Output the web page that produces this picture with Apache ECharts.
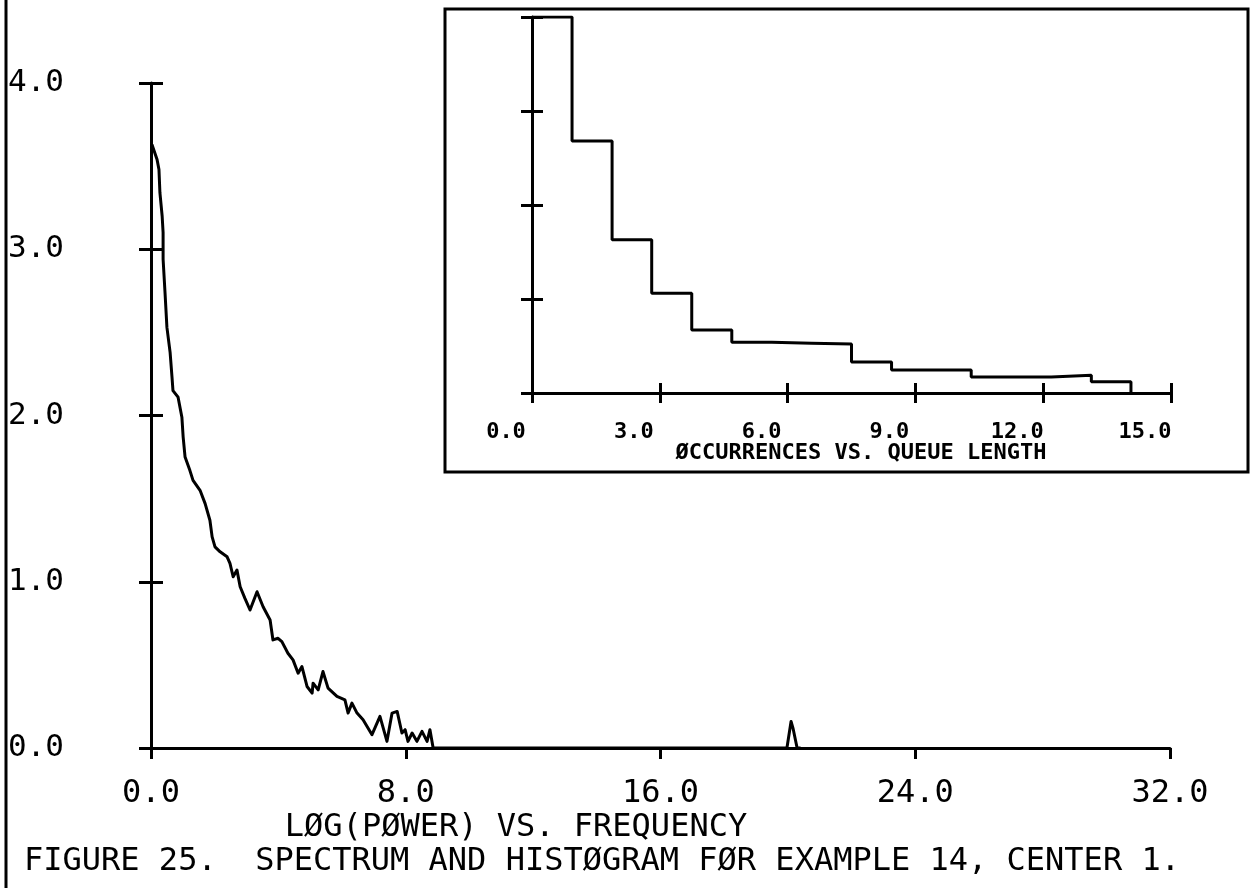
<!DOCTYPE html>
<html>
<head>
<meta charset="utf-8">
<title>Figure 25</title>
<script src="https://cdn.jsdelivr.net/npm/echarts@6/dist/echarts.min.js"></script>
<style>
  html, body { margin: 0; padding: 0; background: #fff; }
  #chart { width: 1251px; height: 888px; }
</style>
</head>
<body>
<div id="chart"></div>
<script>
// spectrum: log(power) against frequency
var specFreq = [0.03, 0.19, 0.25, 0.28, 0.35, 0.38, 0.38, 0.44, 0.50, 0.60, 0.66, 0.69, 0.85, 0.97, 1.01, 1.07,
	1.22, 1.32, 1.54, 1.70, 1.85, 1.92, 2.01, 2.17, 2.39, 2.48, 2.58, 2.70, 2.80, 2.95, 3.11, 3.33,
	3.52, 3.74, 3.83, 3.99, 4.11, 4.30, 4.46, 4.62, 4.74, 4.90, 5.06, 5.09, 5.25, 5.40, 5.56, 5.84,
	6.09, 6.19, 6.31, 6.47, 6.66, 6.94, 7.19, 7.41, 7.57, 7.73, 7.88, 7.98, 8.07, 8.20, 8.35, 8.51,
	8.67, 8.76, 8.86, 19.97, 20.10, 20.16, 20.29, 20.40];
var specPower = [3.63, 3.54, 3.48, 3.34, 3.20, 3.10, 2.94, 2.74, 2.53, 2.38, 2.23, 2.15, 2.11, 1.99, 1.87, 1.75,
	1.67, 1.61, 1.55, 1.47, 1.37, 1.27, 1.21, 1.18, 1.15, 1.11, 1.03, 1.07, 0.97, 0.90, 0.83, 0.94,
	0.85, 0.77, 0.65, 0.66, 0.64, 0.57, 0.53, 0.45, 0.49, 0.37, 0.33, 0.39, 0.35, 0.46, 0.36, 0.31,
	0.29, 0.21, 0.27, 0.21, 0.17, 0.08, 0.19, 0.04, 0.21, 0.22, 0.09, 0.11, 0.04, 0.09, 0.04, 0.10,
	0.04, 0.11, 0.00, 0.00, 0.16, 0.12, 0.00, 0.00];

// histogram: occurrences against queue length (left bin edges + heights)
var binEdges = [0, 0.94, 1.88, 2.81, 3.75, 4.69, 5.63, 6.56, 7.50, 8.44, 9.38, 10.31, 11.25, 12.19, 13.13, 14.06];
var binCounts = [4.0, 2.68, 1.63, 1.06, 0.67, 0.54, 0.53, 0.52, 0.33, 0.245, 0.245, 0.17, 0.17, 0.19, 0.12];

var mainTitle = 'LØG(PØWER) VS. FREQUENCY';
var insetTitle = 'ØCCURRENCES VS. QUEUE LENGTH';
var caption = 'FIGURE 25.  SPECTRUM AND HISTØGRAM FØR EXAMPLE 14, CENTER 1.';

var ink = '#000';
var mono = '"DejaVu Sans Mono", monospace';
var lw = 3;

var specData = [];
for (var i = 0; i < specFreq.length; i++) {
	specData.push([specFreq[i], specPower[i]]);
}
var histData = [];
for (var j = 0; j < binCounts.length; j++) {
	histData.push([binEdges[j], binCounts[j]]);
}
histData.push([binEdges[binEdges.length - 1], 0]);

function fmt(v) { return v.toFixed(1); }

// a second axis with inside ticks gives ticks that cross the axis line
function ghostX(grid, max, step, len) {
	return {
		gridIndex: grid, type: 'value', position: 'bottom', min: 0, max: max, interval: step,
		axisLine: { show: false, onZero: false },
		axisTick: { show: true, inside: true, length: len, lineStyle: { color: ink, width: lw } },
		axisLabel: { show: false },
		splitLine: { show: false }
	};
}
function ghostY(grid, len) {
	return {
		gridIndex: grid, type: 'value', position: 'left', min: 0, max: 4, interval: 1,
		axisLine: { show: false, onZero: false },
		axisTick: { show: true, inside: true, length: len, lineStyle: { color: ink, width: lw } },
		axisLabel: { show: false },
		splitLine: { show: false }
	};
}

var option = {
	backgroundColor: '#fff',
	animation: false,
	grid: [
		{ left: 151, right: 81, top: 83, bottom: 140 },
		{ left: 532, right: 80, top: 17, bottom: 495 }
	],
	xAxis: [
		{
			gridIndex: 0, type: 'value', position: 'bottom', min: 0, max: 32, interval: 8,
			axisLine: { onZero: false, lineStyle: { color: ink, width: lw } },
			axisTick: { length: 11, lineStyle: { color: ink, width: lw } },
			axisLabel: { color: ink, fontFamily: mono, fontSize: 32, margin: 30, formatter: fmt },
			splitLine: { show: false }
		},
		{
			gridIndex: 1, type: 'value', position: 'bottom', min: 0, max: 15, interval: 3,
			axisLine: { onZero: false, lineStyle: { color: ink, width: lw } },
			axisTick: { length: 10, lineStyle: { color: ink, width: lw } },
			axisLabel: { color: ink, fontFamily: mono, fontWeight: 'bold', fontSize: 22, margin: 28,
				padding: [0, 52, 0, 0], formatter: fmt },
			splitLine: { show: false }
		},
		ghostX(1, 15, 3, 10)
	],
	yAxis: [
		{
			gridIndex: 0, type: 'value', position: 'left', min: 0, max: 4, interval: 1,
			axisLine: { show: true, onZero: false, lineStyle: { color: ink, width: lw } },
			axisTick: { show: true, length: 12, lineStyle: { color: ink, width: lw } },
			axisLabel: { color: ink, fontFamily: mono, fontSize: 31, align: 'left', margin: 143, formatter: fmt },
			splitLine: { show: false }
		},
		ghostY(0, 12),
		{
			gridIndex: 1, type: 'value', position: 'left', min: 0, max: 4, interval: 1,
			axisLine: { show: true, onZero: false, lineStyle: { color: ink, width: lw } },
			axisTick: { show: true, length: 11, lineStyle: { color: ink, width: lw } },
			axisLabel: { show: false },
			splitLine: { show: false }
		},
		ghostY(1, 11)
	],
	series: [
		{
			type: 'line', xAxisIndex: 0, yAxisIndex: 0, data: specData,
			showSymbol: false, symbol: 'none',
			lineStyle: { color: ink, width: lw, join: 'round' }
		},
		{
			type: 'line', xAxisIndex: 1, yAxisIndex: 2, data: histData,
			step: 'end', showSymbol: false, symbol: 'none',
			lineStyle: { color: ink, width: lw }
		}
	],
	graphic: [
		{ type: 'line', shape: { x1: 6, y1: 0, x2: 6, y2: 888 }, style: { stroke: ink, lineWidth: 3 } },
		{ type: 'rect', shape: { x: 445, y: 9, width: 803, height: 463 },
			style: { fill: 'none', stroke: ink, lineWidth: 3 } },
		{ type: 'text', x: 861, y: 453,
			style: { text: insetTitle, fill: ink, font: 'bold 22px ' + mono, textAlign: 'center', textVerticalAlign: 'middle' } },
		{ type: 'text', x: 516, y: 828,
			style: { text: mainTitle, fill: ink, font: '32px ' + mono, textAlign: 'center', textVerticalAlign: 'middle' } },
		{ type: 'text', x: 24, y: 862,
			style: { text: caption, fill: ink, font: '32px ' + mono, textAlign: 'left', textVerticalAlign: 'middle' } }
	]
};

var myChart = echarts.init(document.getElementById('chart'));
myChart.setOption(option);
</script>
</body>
</html>
